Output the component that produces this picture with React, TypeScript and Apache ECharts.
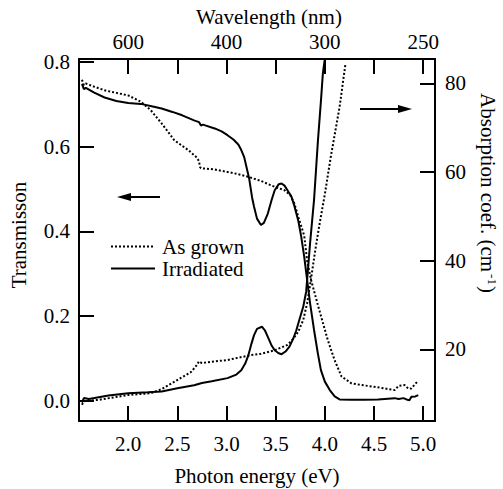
import React, { useEffect, useRef } from "react";
import * as echarts from "echarts";

// ---- data (photon energy in eV) ----
const irrTransE = [1.53, 1.55, 1.57, 1.65, 1.76, 1.88, 2.0, 2.13, 2.25, 2.34, 2.45, 2.55, 2.67, 2.72, 2.74, 2.76, 2.88, 2.95, 3.01, 3.07, 3.12, 3.15, 3.18, 3.21, 3.23, 3.26, 3.28, 3.31, 3.35, 3.38, 3.42, 3.46, 3.49, 3.53, 3.56, 3.59, 3.62, 3.66, 3.69, 3.73, 3.76, 3.79, 3.82, 3.85, 3.89, 3.93, 3.96, 4.0, 4.05, 4.1, 4.15, 4.27, 4.4, 4.54, 4.71, 4.75, 4.8, 4.84, 4.86, 4.88, 4.92, 4.95];
const irrTransT = [0.748, 0.736, 0.739, 0.728, 0.716, 0.708, 0.703, 0.701, 0.695, 0.69, 0.682, 0.674, 0.662, 0.658, 0.65, 0.652, 0.643, 0.636, 0.627, 0.617, 0.605, 0.592, 0.575, 0.545, 0.525, 0.48, 0.458, 0.43, 0.415, 0.42, 0.442, 0.475, 0.497, 0.511, 0.513, 0.508, 0.497, 0.482, 0.46, 0.425, 0.387, 0.34, 0.285, 0.23, 0.167, 0.11, 0.072, 0.045, 0.025, 0.01, 0.003, 0.002, 0.002, 0.003, 0.006, 0.004, 0.006, 0.002, 0.001, 0.009, 0.01, 0.013];

const asgTransE = [1.53, 1.55, 1.57, 1.65, 1.76, 1.88, 2.0, 2.13, 2.23, 2.34, 2.47, 2.61, 2.69, 2.72, 2.73, 2.74, 2.8, 2.88, 3.08, 3.22, 3.35, 3.49, 3.59, 3.65, 3.69, 3.73, 3.79, 3.82, 3.86, 3.93, 4.03, 4.1, 4.17, 4.27, 4.4, 4.5, 4.71, 4.75, 4.81, 4.85, 4.88, 4.92, 4.95];
const asgTransT = [0.758, 0.745, 0.749, 0.742, 0.733, 0.727, 0.721, 0.706, 0.686, 0.655, 0.615, 0.592, 0.576, 0.566, 0.552, 0.549, 0.548, 0.546, 0.537, 0.529, 0.519, 0.505, 0.497, 0.485, 0.466, 0.434, 0.39, 0.33, 0.285, 0.225, 0.143, 0.095, 0.057, 0.041, 0.036, 0.033, 0.025, 0.035, 0.037, 0.028, 0.029, 0.04, 0.047];

const irrAbsE = [1.53, 1.55, 1.6, 1.8, 2.0, 2.2, 2.34, 2.5, 2.67, 2.75, 2.85, 3.01, 3.1, 3.15, 3.19, 3.22, 3.25, 3.28, 3.31, 3.36, 3.39, 3.42, 3.46, 3.49, 3.53, 3.56, 3.6, 3.64, 3.68, 3.71, 3.74, 3.78, 3.81, 3.85, 3.89, 3.93, 3.96, 3.98, 4.0];
const irrAbsA = [8.0, 9.0, 8.8, 9.6, 10.1, 10.3, 10.5, 11.2, 11.9, 12.4, 12.8, 13.5, 14.3, 15.3, 16.8, 18.5, 21.0, 23.2, 24.6, 25.1, 24.3, 22.8, 20.8, 19.8, 19.1, 18.9, 19.5, 20.6, 22.5, 24.3, 26.6, 29.6, 33.0, 44.0, 53.7, 67.2, 76.0, 82.3, 85.6];

const asgAbsE = [1.53, 1.55, 1.7, 2.0, 2.23, 2.34, 2.44, 2.54, 2.64, 2.7, 2.72, 2.75, 2.78, 3.01, 3.25, 3.35, 3.49, 3.62, 3.68, 3.73, 3.78, 3.82, 3.86, 3.9, 3.94, 4.0, 4.06, 4.15, 4.21];
const asgAbsA = [7.5, 8.3, 8.6, 9.7, 10.1, 11.0, 12.3, 13.6, 14.9, 16.5, 17.3, 16.9, 17.0, 17.6, 18.7, 19.0, 19.8, 21.0, 22.4, 24.0, 26.6, 30.4, 36.0, 42.0, 47.5, 55.0, 63.4, 74.7, 84.5];

// ---- axes ----
const energyTicks = [2.0, 2.5, 3.0, 3.5, 4.0, 4.5, 5.0];
const wavelengthTickPos = [2.0, 3.0, 4.0, 5.0];
const wavelengthLabels = ["600", "400", "300", "250"];
const transTicks = [0, 0.2, 0.4, 0.6, 0.8];
const absTicks = [20, 40, 60, 80];

const FONT = "Liberation Serif";
const FS = 21;

const zip = (xs: number[], ys: number[]) => xs.map((x, i) => [x, ys[i]]);

export default function App() {
  const ref = useRef<HTMLDivElement>(null);
  useEffect(() => {
    if (!ref.current) return;
    const chart = echarts.init(ref.current, null, { renderer: "svg" });
    const axisLine = { show: true, onZero: false, lineStyle: { color: "#000", width: 2 } };
    const tickStyle = { color: "#000", width: 2 };
    const labelBase = { color: "#000", fontSize: FS, fontFamily: FONT };
    const solid = { color: "#000", width: 2, type: "solid" as const };
    const dotted = { color: "#000", width: 2, type: [2, 2] as any };
    const gText = (text: string, x: number, y: number, rotation = 0) => ({
      type: "text", x, y, rotation,
      style: { text, fontSize: FS, fontFamily: FONT, fill: "#000", align: "center", verticalAlign: "middle" },
    });
    const option: any = {
      animation: false,
      grid: { left: 79, right: 68, top: 59, bottom: 68, containLabel: false },
      legend: {
        data: ["As grown", "Irradiated"],
        orient: "vertical",
        left: 105,
        top: 231,
        itemWidth: 44,
        itemHeight: 14,
        itemGap: 1,
        selectedMode: false,
        itemStyle: { opacity: 0, borderWidth: 0 },
        textStyle: { ...labelBase, padding: [0, 0, 0, 2] },
      },
      xAxis: [
        {
          type: "value",
          position: "bottom",
          min: 1.5,
          max: 5.12,
          axisLine,
          splitLine: { show: false },
          axisTick: { show: true, inside: true, length: 15, lineStyle: tickStyle, customValues: energyTicks },
          axisLabel: { ...labelBase, margin: 12, customValues: energyTicks, formatter: (v: number) => v.toFixed(1) },
        },
        {
          type: "value",
          position: "top",
          min: 1.5,
          max: 5.12,
          axisLine,
          splitLine: { show: false },
          axisTick: { show: true, inside: true, length: 15, lineStyle: tickStyle, customValues: energyTicks },
          axisLabel: {
            ...labelBase,
            margin: 7,
            customValues: wavelengthTickPos,
            formatter: (v: number) => {
              const i = wavelengthTickPos.findIndex((p) => Math.abs(p - v) < 1e-6);
              return i >= 0 ? wavelengthLabels[i] : "";
            },
          },
        },
      ],
      yAxis: [
        {
          type: "value",
          position: "left",
          min: -0.048,
          max: 0.807,
          axisLine,
          splitLine: { show: false },
          axisTick: { show: true, inside: true, length: 15, lineStyle: tickStyle, customValues: transTicks },
          axisLabel: { ...labelBase, margin: 9, customValues: transTicks, formatter: (v: number) => v.toFixed(1) },
        },
        {
          type: "value",
          position: "right",
          min: 3.83,
          max: 85.5,
          axisLine,
          splitLine: { show: false },
          axisTick: { show: true, inside: true, length: 15, lineStyle: tickStyle, customValues: absTicks },
          axisLabel: { ...labelBase, margin: 10, customValues: absTicks, formatter: (v: number) => String(Math.round(v)) },
        },
      ],
      series: [
        { name: "As grown", type: "line", xAxisIndex: 0, yAxisIndex: 0, symbol: "none", lineStyle: dotted, itemStyle: { color: "#000" }, data: zip(asgTransE, asgTransT) },
        { name: "Irradiated", type: "line", xAxisIndex: 0, yAxisIndex: 0, symbol: "none", lineStyle: solid, itemStyle: { color: "#000" }, data: zip(irrTransE, irrTransT) },
        { name: "As grown", type: "line", xAxisIndex: 0, yAxisIndex: 1, symbol: "none", lineStyle: dotted, itemStyle: { color: "#000" }, data: zip(asgAbsE, asgAbsA) },
        { name: "Irradiated", type: "line", xAxisIndex: 0, yAxisIndex: 1, symbol: "none", lineStyle: solid, itemStyle: { color: "#000" }, data: zip(irrAbsE, irrAbsA) },
      ],
      graphic: [
        gText("Wavelength (nm)", 269, 17),
        gText("Photon energy (eV)", 257, 476),
        gText("Transmisson", 19, 235, Math.PI / 2),
        {
          type: "text", x: 488, y: 193, rotation: -Math.PI / 2,
          style: {
            text: "{n|Absorption coef. (cm}{s|-1}{n|)}",
            fontSize: FS, fontFamily: FONT, fill: "#000", align: "center", verticalAlign: "middle",
            rich: {
              n: { fontSize: FS, fontFamily: FONT, fill: "#000", lineHeight: 22 },
              s: { fontSize: 13, fontFamily: FONT, fill: "#000", verticalAlign: "top", padding: [0, 1, 6, 2] },
            },
          },
        },
        // left arrow
        { type: "line", shape: { x1: 128, y1: 197, x2: 160, y2: 197 }, style: { stroke: "#000", lineWidth: 2 } },
        { type: "polygon", shape: { points: [[117, 197], [131, 193], [131, 201]] }, style: { fill: "#000" } },
        // right arrow
        { type: "line", shape: { x1: 360, y1: 109, x2: 400, y2: 109 }, style: { stroke: "#000", lineWidth: 2 } },
        { type: "polygon", shape: { points: [[412, 109], [398, 105], [398, 113]] }, style: { fill: "#000" } },
      ],
    };
    chart.setOption(option);
    return () => chart.dispose();
  }, []);
  return <div ref={ref} style={{ position: "absolute", left: 0, top: 0, width: 503, height: 489 }} />;
}
